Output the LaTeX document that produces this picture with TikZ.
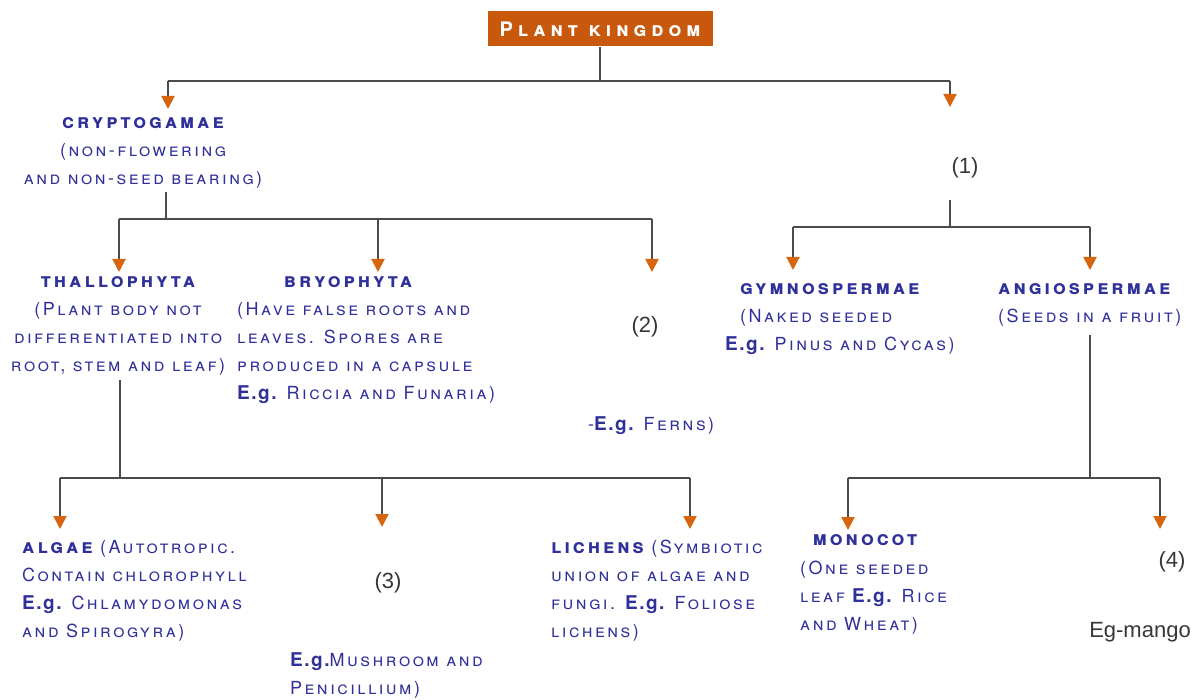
\documentclass[tikz,border=0pt]{standalone}
\usepackage{fontspec}
\setmainfont{TeX Gyre Heros}
\newfontfamily\scfam{TeX Gyre Heros}[LetterSpace=14]
\newfontfamily\hdfam{TeX Gyre Heros}[LetterSpace=15]
\newfontfamily\ttlfam{TeX Gyre Heros}[LetterSpace=25]
\newfontfamily\egfam{TeX Gyre Heros}[LetterSpace=8]
\newfontfamily\numfam{Liberation Sans}
\usetikzlibrary{positioning}
\usetikzlibrary{arrows.meta}
\definecolor{txtblue}{RGB}{48,48,155}
\definecolor{linegray}{RGB}{75,75,75}
\definecolor{tiporange}{RGB}{215,100,15}
\definecolor{boxorange}{RGB}{200,88,12}
\definecolor{numgray}{RGB}{55,55,55}
\newcommand{\egl}{{\egfam\bfseries\upshape\fontsize{19}{28}\selectfont E.g.}}
\newcommand{\hd}[1]{{\hdfam\bfseries\scshape\fontsize{20}{28}\selectfont #1}}

\begin{document}
\begin{tikzpicture}[x=1pt,y=-1pt,
		link/.style={draw=linegray,line width=2pt},
		arr/.style={link,-{Triangle[color=tiporange,width=13pt,length=13pt]}},
		txt/.style={inner sep=0pt,text=txtblue,font=\scfam\scshape\fontsize{18}{28}\selectfont},
		num/.style={inner sep=0pt,text=numgray,font=\numfam\fontsize{22}{26}\selectfont}]
		\useasboundingbox[fill=white] (0,0) rectangle (1200,700);
		% title
		\node[fill=boxorange,minimum width=225pt,minimum height=35pt,inner sep=0pt,text=white,font=\ttlfam\scshape\bfseries\fontsize{20}{22}\selectfont] (pk) at (600,29) {Plant kingdom};
		% first split
		\node[txt,anchor=north,align=center] (crypto) at (143,117) {\hd{cryptogamae}\\(non-flowering\\and non-seed bearing)};
		\node[num] (n1) at (965,168) {(1)};
		\coordinate (b1l) at (168,81);
		\coordinate (b1r) at (950,81);
		\coordinate (t1l) at (168,109);
		\coordinate (t1r) at (950,107);
		\draw[link] (pk.south) -- (pk.south |- b1l);
		\draw[link] (b1l) -- (b1r);
		\draw[arr] (b1l) -- (t1l);
		\draw[arr] (b1r) -- (t1r);
		% cryptogamae
		\node[txt,anchor=north,align=center] (thallo) at (118,276) {\hd{thallophyta}\\(Plant body not\\differentiated into\\root, stem and leaf)};
		\node[txt,anchor=north] (bryo) at (348,276) {\hd{bryophyta}};
		\node[txt,anchor=north west,align=left] (bryotxt) at (237,302) {(Have false roots and\\leaves. Spores are\\produced in a capsule\\\egl{} Riccia and Funaria)};
		\node[num] (n2) at (645,327) {(2)};
		\node[txt,anchor=west] (ferns) at (588,426) {-\egl{} Ferns)};
		\coordinate (s2) at (166,192);
		\coordinate (b2l) at (119,219);
		\coordinate (b2r) at (652,219);
		\draw[link] (s2) -- (s2 |- b2l);
		\draw[link] (b2l) -- (b2r);
		\draw[arr] (b2l) -- (119,272);
		\draw[arr] (378,219) -- (378,272);
		\draw[arr] (b2r) -- (652,272);
		% (1)
		\node[txt,anchor=north west,align=left] (gymno) at (740,283) {\hd{gymnospermae}\\(Naked seeded\\\hspace*{-15pt}\egl{} Pinus and Cycas)};
		\node[txt,anchor=north west,align=left] (angio) at (998,283) {\hd{angiospermae}\\(Seeds in a fruit)};
		\coordinate (s3) at (950,200);
		\coordinate (b3l) at (793,227);
		\coordinate (b3r) at (1090,227);
		\draw[link] (s3) -- (s3 |- b3l);
		\draw[link] (b3l) -- (b3r);
		\draw[arr] (b3l) -- (793,270);
		\draw[arr] (b3r) -- (1090,270);
		% thallophyta
		\node[txt,anchor=north west,align=left] (algae) at (22,540) {\hd{algae} (Autotropic.\\Contain chlorophyll\\\egl{} Chlamydomonas\\and Spirogyra)};
		\node[num] (n3) at (388,583) {(3)};
		\node[txt,anchor=north west,align=left] (mush) at (290,652) {\egl{}Mushroom and\\Penicillium)};
		\node[txt,anchor=north west,align=left] (lichen) at (551,540) {\hd{lichens} (Symbiotic\\union of algae and\\fungi. \egl{} Foliose\\lichens)};
		\coordinate (s4) at (120,380);
		\coordinate (b4l) at (60,478);
		\coordinate (b4r) at (690,478);
		\draw[link] (s4) -- (s4 |- b4l);
		\draw[link] (b4l) -- (b4r);
		\draw[arr] (b4l) -- (60,529);
		\draw[arr] (382,478) -- (382,527);
		\draw[arr] (b4r) -- (690,529);
		% angiospermae
		\node[txt,anchor=north] (mono) at (865,534) {\hd{monocot}};
		\node[txt,anchor=north west,align=left] (monotxt) at (800,561) {(One seeded\\leaf \egl{} Rice\\and Wheat)};
		\node[num] (n4) at (1172,562) {(4)};
		\node[num] (mango) at (1140,632) {Eg-mango};
		\coordinate (s5) at (1090,335);
		\coordinate (b5l) at (848,478);
		\coordinate (b5r) at (1160,478);
		\draw[link] (s5) -- (s5 |- b5l);
		\draw[link] (b5l) -- (b5r);
		\draw[arr] (b5l) -- (848,530);
		\draw[arr] (b5r) -- (1160,529);
	\end{tikzpicture}
\end{document}
